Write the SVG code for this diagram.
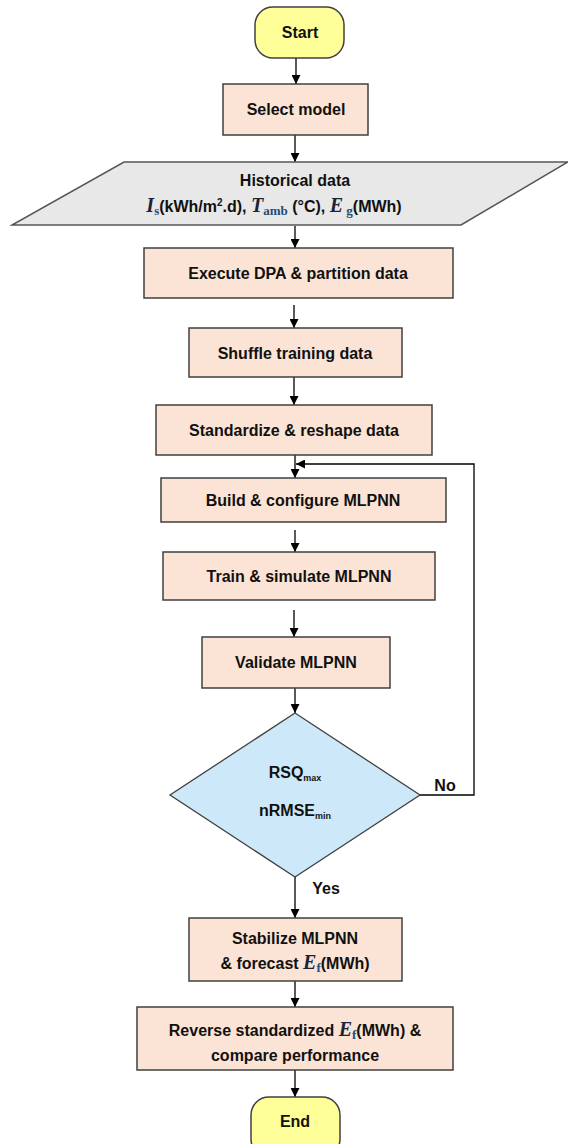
<svg xmlns="http://www.w3.org/2000/svg" width="568" height="1144" viewBox="0 0 568 1144">
<defs>
<marker id="ah" markerWidth="9" markerHeight="9" refX="9" refY="4.5" orient="auto" markerUnits="userSpaceOnUse">
<path d="M0,0 L9,4.5 L0,9 Z" fill="#000"/>
</marker>
<style>
.box{fill:#fbe4d5;stroke:#404040;stroke-width:1.5}
.term{fill:#ffff99;stroke:#404040;stroke-width:1.5}
.io{fill:#e8e8e8;stroke:#555;stroke-width:1.5}
.dec{fill:#cde9f9;stroke:#404040;stroke-width:1.3}
.t{font-family:"Liberation Sans",Arial,sans-serif;font-weight:bold;font-size:16px;fill:#111;text-anchor:middle}
.m{font-family:"Liberation Serif","Times New Roman",serif;font-weight:bold;font-style:italic;font-size:20px;fill:#1a2338}
.sb{font-family:"Liberation Serif","Times New Roman",serif;font-weight:bold;font-style:normal;font-size:13px;fill:#1f4e79}
.sub{font-size:9px}
.sup{font-size:10px}
.c{fill:none;stroke:#000;stroke-width:1.3}
</style>
</defs>
<g id="connectors">
<line class="c" x1="296" y1="58" x2="296" y2="84" marker-end="url(#ah)"/>
<line class="c" x1="295" y1="135" x2="295" y2="162" marker-end="url(#ah)"/>
<line class="c" x1="295" y1="226" x2="295" y2="248" marker-end="url(#ah)"/>
<line class="c" x1="294" y1="305" x2="294" y2="328" marker-end="url(#ah)"/>
<line class="c" x1="294" y1="377" x2="294" y2="405" marker-end="url(#ah)"/>
<line class="c" x1="295" y1="455" x2="295" y2="478" marker-end="url(#ah)"/>
<line class="c" x1="295" y1="530" x2="295" y2="552" marker-end="url(#ah)"/>
<line class="c" x1="294" y1="610" x2="294" y2="637" marker-end="url(#ah)"/>
<line class="c" x1="295" y1="688" x2="295" y2="713" marker-end="url(#ah)"/>
<line class="c" x1="295" y1="877" x2="295" y2="918" marker-end="url(#ah)"/>
<line class="c" x1="295" y1="981" x2="295" y2="1007" marker-end="url(#ah)"/>
<line class="c" x1="295" y1="1070" x2="295" y2="1097" marker-end="url(#ah)"/>
<polyline class="c" stroke="#404040" points="420,795 474,795 474,464 296,464" marker-end="url(#ah)"/>
<text class="t" x="445" y="791">No</text>
<text class="t" x="326" y="894">Yes</text>
</g>
<g id="start">
<rect class="term" x="255" y="7" width="89" height="51" rx="18" ry="18"/>
<text class="t" x="300" y="38">Start</text>
</g>
<g id="select-model">
<rect class="box" x="223" y="84" width="145" height="51"/>
<text class="t" x="296" y="115">Select model</text>
</g>
<g id="historical-data">
<polygon class="io" points="124,162 568,162 461,225 12,225"/>
<text class="t" x="295" y="186">Historical data</text>
<text class="t" x="274" y="212"><tspan class="m">I</tspan><tspan class="sb" dy="3">s</tspan><tspan dy="-3">(kWh/m</tspan><tspan class="sup" dy="-6">2</tspan><tspan dy="6">.d), </tspan><tspan class="m">T</tspan><tspan class="sb" dy="3">amb</tspan><tspan dy="-3"> (°C), </tspan><tspan class="m">E</tspan><tspan class="sb" dy="3"> g</tspan><tspan dy="-3">(MWh)</tspan></text>
</g>
<g id="execute-dpa">
<rect class="box" x="144" y="248" width="309" height="50"/>
<text class="t" x="298" y="279">Execute DPA &amp; partition data</text>
</g>
<g id="shuffle">
<rect class="box" x="189" y="328" width="213" height="49"/>
<text class="t" x="295" y="359">Shuffle training data</text>
</g>
<g id="standardize">
<rect class="box" x="156" y="405" width="276" height="50"/>
<text class="t" x="294" y="436">Standardize &amp; reshape data</text>
</g>
<g id="build">
<rect class="box" x="161" y="478" width="285" height="44"/>
<text class="t" x="303" y="506">Build &amp; configure MLPNN</text>
</g>
<g id="train">
<rect class="box" x="163" y="552" width="272" height="48"/>
<text class="t" x="299" y="582">Train  &amp; simulate MLPNN</text>
</g>
<g id="validate">
<rect class="box" x="202" y="637" width="188" height="51"/>
<text class="t" x="296" y="668">Validate MLPNN</text>
</g>
<g id="decision">
<polygon class="dec" points="295,713 420,795 295,877 170,795"/>
<text class="t" x="295" y="778">RSQ<tspan class="sub" dy="3">max</tspan></text>
<text class="t" x="295" y="816">nRMSE<tspan class="sub" dy="3">min</tspan></text>
</g>
<g id="stabilize">
<rect class="box" x="189" y="918" width="213" height="63"/>
<text class="t" x="295" y="944">Stabilize MLPNN</text>
<text class="t" x="295" y="969">&amp; forecast <tspan class="m">E</tspan><tspan class="sb" dy="3">f</tspan><tspan dy="-3">(MWh)</tspan></text>
</g>
<g id="reverse">
<rect class="box" x="137" y="1007" width="316" height="63"/>
<text class="t" x="295" y="1036">Reverse standardized <tspan class="m">E</tspan><tspan class="sb" dy="3">f</tspan><tspan dy="-3">(MWh) &amp;</tspan></text>
<text class="t" x="295" y="1061">compare performance</text>
</g>
<g id="end">
<rect class="term" x="251" y="1097" width="89" height="60" rx="18" ry="18"/>
<text class="t" x="295" y="1127">End</text>
</g>
</svg>
